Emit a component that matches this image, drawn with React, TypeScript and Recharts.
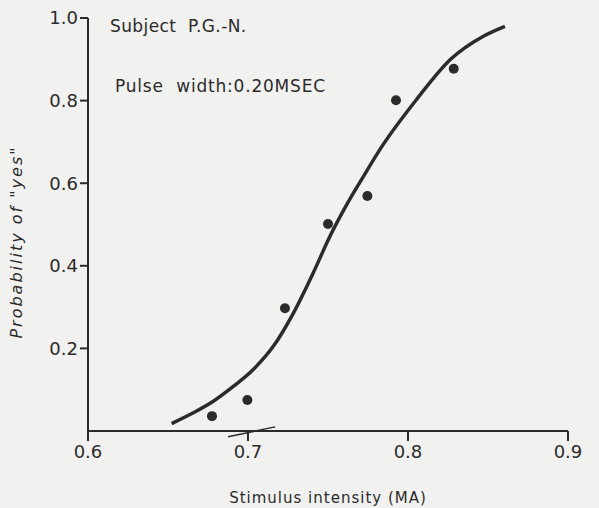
import {
  ComposedChart,
  Line,
  Scatter,
  XAxis,
  YAxis,
  ReferenceLine,
} from "recharts";

// smooth fitted curve
const curveX = [0.6523, 0.6658, 0.6783, 0.6908, 0.7033, 0.7158, 0.7283, 0.7408, 0.7513, 0.7617, 0.7721, 0.7825, 0.8054, 0.8263, 0.8471, 0.8606];
const curveY = [0.018, 0.044, 0.072, 0.108, 0.149, 0.205, 0.285, 0.383, 0.472, 0.548, 0.616, 0.682, 0.803, 0.899, 0.956, 0.98];

// observed proportions
const obsX = [0.6775, 0.6996, 0.7231, 0.75, 0.7746, 0.7925, 0.8286];
const obsY = [0.036, 0.075, 0.297, 0.501, 0.569, 0.801, 0.877];

const xTicks = [0.6, 0.7, 0.8, 0.9];
const yTicks = [0.2, 0.4, 0.6, 0.8, 1.0];

const curve = curveX.map((x, i) => ({ x, y: curveY[i] }));
const points = obsX.map((x, i) => ({ x, y: obsY[i] }));

const ink = "#2b2b2b";
const font = "'DejaVu Sans', sans-serif";

export default function App() {
  return (
    <div
      style={{
        position: "absolute",
        left: 0,
        top: 0,
        width: 599,
        height: 508,
        background: "#f1f1ef",
        fontFamily: font,
      }}
    >
      <ComposedChart
        width={599}
        height={508}
        data={curve}
        margin={{ top: 18, right: 31, left: 0, bottom: 0 }}
      >
        <XAxis
          type="number"
          dataKey="x"
          domain={[0.6, 0.9]}
          ticks={xTicks}
          tickFormatter={(v: number) => v.toFixed(1)}
          height={77}
          tickSize={10}
          tickMargin={4}
          stroke={ink}
          strokeWidth={2}
          tick={{ fill: ink, fontSize: 18, fontFamily: font }}
          label={{
            value: "Stimulus intensity (MA)",
            position: "insideBottom",
            offset: 5,
            fill: ink,
            fontSize: 15,
            fontFamily: font,
            letterSpacing: 1,
          }}
        />
        <YAxis
          type="number"
          dataKey="y"
          domain={[0, 1]}
          ticks={yTicks}
          tickFormatter={(v: number) => v.toFixed(1)}
          width={88}
          tickSize={8}
          tickMargin={2}
          stroke={ink}
          strokeWidth={2}
          tick={{ fill: ink, fontSize: 18, fontFamily: font }}
          label={{
            content: () => (
              <text
                x={22}
                y={242}
                transform="rotate(-90 22 242)"
                textAnchor="middle"
                fill={ink}
                fontSize={16}
                letterSpacing={2}
                fontStyle="italic"
                fontFamily={font}
              >
                Probability of "yes"
              </text>
            ),
          }}
        />
        <ReferenceLine
          segment={[
            { x: 0.6875, y: -0.014 },
            { x: 0.717, y: 0.01 },
          ]}
          stroke={ink}
          strokeWidth={1.5}
          ifOverflow="visible"
        />
        <Line
          type="monotone"
          dataKey="y"
          stroke={ink}
          strokeWidth={3.5}
          dot={false}
          activeDot={false}
          isAnimationActive={false}
        />
        <Scatter data={points} dataKey="y" fill={ink} isAnimationActive={false} shape={(p: any) => <circle cx={p.cx} cy={p.cy} r={5} fill={ink} />} />
      </ComposedChart>
      <div style={{ position: "absolute", left: 110, top: 16, fontSize: 17, color: ink, whiteSpace: "pre", letterSpacing: 0.4 }}>
        Subject  P.G.-N.
      </div>
      <div style={{ position: "absolute", left: 115, top: 76, fontSize: 17, color: ink, whiteSpace: "pre", letterSpacing: 0.8 }}>
        Pulse  width:0.20MSEC
      </div>
    </div>
  );
}
